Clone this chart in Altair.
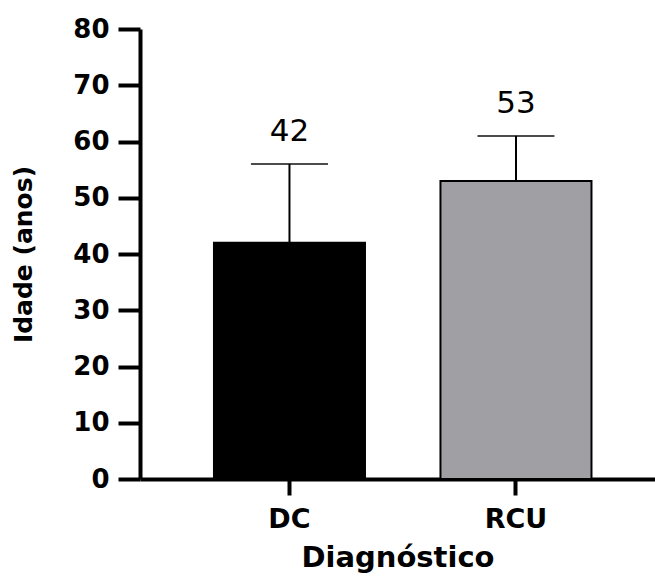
import altair as alt
import pandas as pd

categories = ["DC", "RCU"]
means = [42, 53]
errors = [14, 8]
colors = ["#000000", "#a09fa4"]

df = pd.DataFrame({"cat": categories, "mean": means, "err": errors, "color": colors})

FONT = "DejaVu Sans"

xenc = alt.X(
    "cat:N",
    title="Diagnóstico",
    sort=categories,
    scale=alt.Scale(paddingInner=0.3333, paddingOuter=0.3035, align=0.538),
    axis=alt.Axis(
        labelAngle=0,
        labelFont=FONT,
        labelFontWeight="bold",
        labelFontSize=27,
        labelColor="black",
        labelPadding=11,
        tickSize=16,
        tickWidth=4,
        tickColor="black",
        domainColor="black",
        domainWidth=4,
        titleFont=FONT,
        titleFontWeight="bold",
        titleFontSize=29,
        titleColor="black",
        titlePadding=11,
    ),
)

yscale = alt.Scale(domain=[0, 80], nice=False)
yaxis = alt.Axis(
    values=[0, 10, 20, 30, 40, 50, 60, 70, 80],
    grid=False,
    labelFont=FONT,
    labelFontWeight="bold",
    labelFontSize=26,
    labelColor="black",
    labelPadding=9,
    tickSize=22,
    tickWidth=4,
    tickColor="black",
    domainColor="black",
    domainWidth=4,
    title="Idade (anos)",
    titleFont=FONT,
    titleFontWeight="bold",
    titleFontSize=25,
    titleColor="black",
    titlePadding=36,
)

base = alt.Chart(df).transform_calculate(upper="datum.mean + datum.err")

bars = base.mark_bar(stroke="black", strokeWidth=2).encode(
    x=xenc,
    y=alt.Y("mean:Q", scale=yscale, axis=yaxis),
    color=alt.Color("color:N", scale=None),
)

rule = base.mark_rule(strokeWidth=2, color="black").encode(
    x=xenc, y=alt.Y("mean:Q", scale=yscale, axis=yaxis), y2="upper:Q"
)

cap = base.mark_tick(orient="horizontal", size=77, thickness=2, color="black").encode(
    x=xenc, y=alt.Y("upper:Q", scale=yscale, axis=yaxis)
)

text = base.mark_text(baseline="bottom", dy=-16, font=FONT, fontSize=31, color="black").encode(
    x=xenc, y=alt.Y("upper:Q", scale=yscale, axis=yaxis), text="mean:Q"
)

chart = (
    alt.layer(rule, bars, cap, text)
    .properties(
        width=515,
        height=450,
        autosize=alt.AutoSizeParams(type="none"),
        padding={"left": 140, "top": 29, "right": 0, "bottom": 97},
        background="white",
    )
    .configure_view(stroke=None)
)

chart.save("out.html", embed_options={"renderer": "svg", "actions": False})
